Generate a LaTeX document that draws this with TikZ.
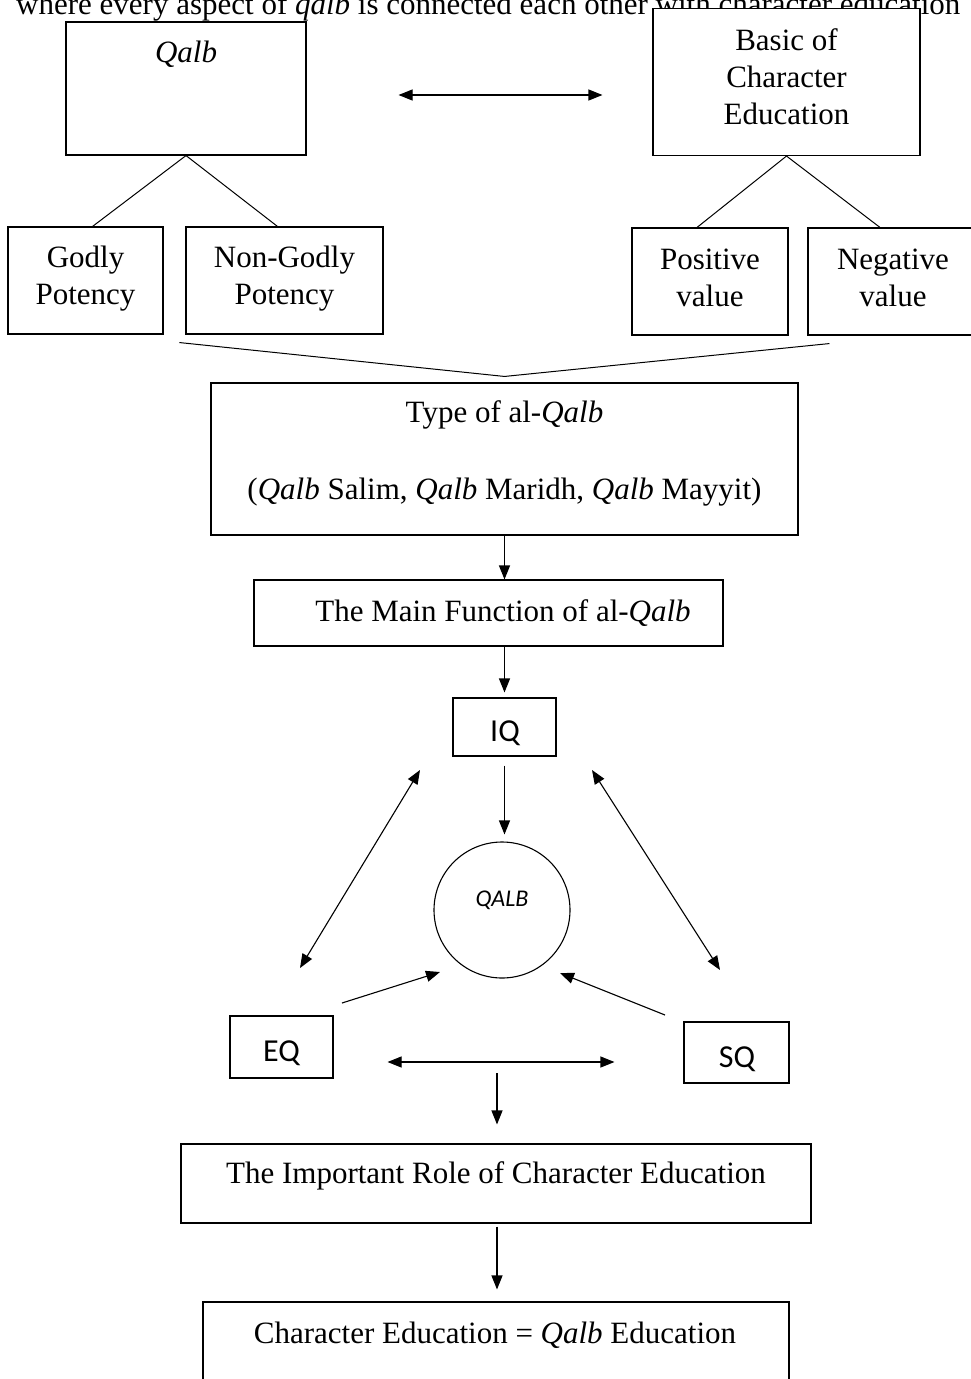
\documentclass[tikz,border=0pt]{standalone}
\usepackage{fontspec}
\setmainfont{Liberation Serif}
\newfontfamily\calib{Carlito}
\usetikzlibrary{arrows.meta,calc}
\begin{document}
\begin{tikzpicture}[x=1pt,y=-1pt,
  box/.style={draw, line width=1.1pt, inner sep=0pt},
  txt/.style={font=\fontsize{31}{37}\selectfont, align=center, inner sep=0pt},
  stxt/.style={font=\calib\fontsize{32}{38}\selectfont, inner sep=0pt},
  conn/.style={line width=1pt},
  arr/.style={line width=1.1pt, -{Triangle[length=14pt,width=11pt]}},
  darr/.style={line width=1.1pt, {Triangle[length=14pt,width=11pt]}-{Triangle[length=14pt,width=11pt]}}]
\useasboundingbox (0,0) rectangle (971,1379);
\begin{scope}
\clip (0,0) rectangle (971,1379);
\fill[white] (0,0) rectangle (971,1379);
% cut-off line of running text at the top
\node[txt, anchor=base west] (runtext) at (16,14) {where every aspect of \textit{qalb} is connected each other with character education};
% boxes
\node[box, minimum width=240pt, minimum height=133pt] (qalb) at (186,88.5) {};
\node[txt, anchor=base] (qalbt) at (186,62) {\textit{Qalb}};
\node[box, fill=white, minimum width=267pt, minimum height=147pt] (basic) at (786.5,82) {};
\node[txt] (basict) at (786.5,77) {Basic of\\Character\\Education};
\node[box, minimum width=155pt, minimum height=107pt] (godly) at (85.5,280.5) {};
\node[txt] (godlyt) at (85.5,279) {Godly\\Potency};
\node[box, minimum width=197pt, minimum height=107pt] (nongodly) at (284.5,280.5) {};
\node[txt] (nongodlyt) at (284.5,279) {Non-Godly\\Potency};
\node[box, minimum width=156pt, minimum height=107pt] (positive) at (710,281.5) {};
\node[txt] (positivet) at (710,277.5) {Positive\\value};
\node[box, minimum width=164pt, minimum height=107pt] (negative) at (890,281.5) {};
\node[txt] (negativet) at (893,277.5) {Negative\\value};
\node[box, minimum width=587pt, minimum height=152pt] (type) at (504.5,459) {};
\node[txt, anchor=base] (typet1) at (504.5,422) {Type of al-\textit{Qalb}};
\node[txt, anchor=base] (typet2) at (504.5,499) {(\textit{Qalb} Salim, \textit{Qalb} Maridh, \textit{Qalb} Mayyit)};
\node[box, minimum width=469pt, minimum height=66pt] (mainfn) at (488.5,613) {};
\node[txt, anchor=base] (mainfnt) at (503,621) {The Main Function of al-\textit{Qalb}};
\node[box, minimum width=103pt, minimum height=58pt] (iq) at (504.5,727) {};
\node[stxt] (iqt) at (505,733) {IQ};
\node[draw, circle, line width=1.1pt, minimum size=136pt, inner sep=0pt] (heart) at (502,910) {};
\node[font=\calib\itshape\fontsize{24}{28}\selectfont, inner sep=0pt] (heartt) at (502,900) {QALB};
\node[box, minimum width=103pt, minimum height=62pt] (eq) at (281.5,1047) {};
\node[stxt] (eqt) at (281.5,1053) {EQ};
\node[box, minimum width=105pt, minimum height=61pt] (sq) at (736.5,1052.5) {};
\node[stxt] (sqt) at (737,1059) {SQ};
\node[box, minimum width=630pt, minimum height=79pt] (role) at (496,1183.5) {};
\node[txt, anchor=base] (rolet) at (496,1183) {The Important Role of Character Education};
\node[box, minimum width=586pt, minimum height=96pt] (chared) at (496,1350) {};
\node[txt, anchor=base] (charedt) at (495,1343) {Character Education = \textit{Qalb} Education};
% connectors top
\draw[darr, shorten <=92pt, shorten >=50pt] (qalb.east |- 0,95) -- (basic.west |- 0,95);
\draw[conn] (qalb.south) -- ($(godly.north)+(7,0)$);
\draw[conn] (qalb.south) -- ($(nongodly.north)+(-7,0)$);
\draw[conn] (basic.south) -- ($(positive.north)+(-13,0)$);
\draw[conn] (basic.south) -- ($(negative.north)+(-10,0)$);
\coordinate (meet) at ($(type.north)+(0,-6)$);
\draw[conn] ($(nongodly.south west)+(-6,8)$) -- (meet) -- ($(negative.south west)+(22,8)$);
\draw[arr] (type.south) -- (type.south |- mainfn.north);
\draw[arr, shorten >=5pt] (mainfn.south -| iq.north) -- (iq.north);
\draw[arr, shorten <=9pt, shorten >=7pt] (iq.south) -- (iq.south |- heart.north);
% triangle of relations
\coordinate (iqL) at (420,770);
\coordinate (eqT) at (300,968);
\coordinate (iqR) at (592,770);
\coordinate (sqT) at (720,970);
\draw[darr] (iqL) -- (eqT);
\draw[darr] (iqR) -- (sqT);
\coordinate (eqA) at (342,1003);
\coordinate (hL) at (440,972);
\coordinate (sqA) at (665,1015);
\coordinate (hR) at (560,973);
\draw[arr] (eqA) -- (hL);
\draw[arr] (sqA) -- (hR);
\draw[darr, shorten <=54pt, shorten >=69pt] (eq.east |- 0,1062) -- (sq.west |- 0,1062);
\coordinate (down1) at (497,1073);
\draw[arr, shorten >=19pt] (down1) -- (down1 |- role.north);
\draw[arr, shorten <=3pt, shorten >=12pt] (role.south -| down1) -- (down1 |- chared.north);
\end{scope}
\end{tikzpicture}
\end{document}
